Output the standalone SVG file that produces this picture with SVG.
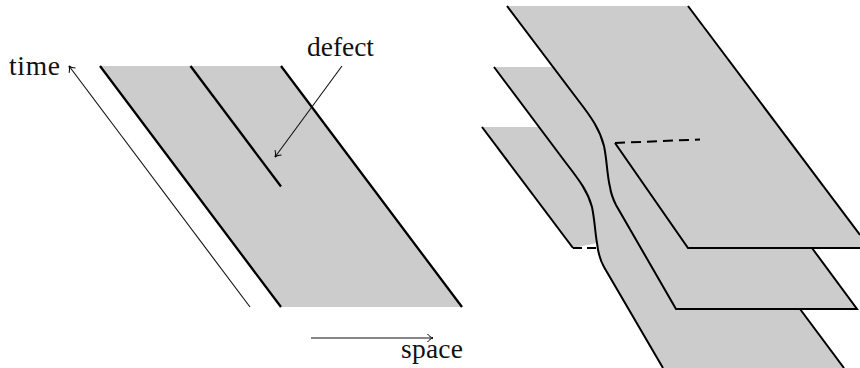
<svg xmlns="http://www.w3.org/2000/svg" width="860" height="368" viewBox="0 0 860 368">
<style>
.s{fill:#ccc;stroke:none}
.e{fill:none;stroke:#000;stroke-width:2}
.t{fill:none;stroke:#000;stroke-width:2.300}
.a{fill:none;stroke:#111;stroke-width:1.100;marker-end:url(#h)}
text{font-family:"Liberation Serif",serif;font-size:27.500px;fill:#111}
</style>
<defs><marker id="h" markerUnits="userSpaceOnUse" markerWidth="14" markerHeight="14" refX="9" refY="7" orient="auto"><path d="M3.500 3C5 5 7 6.500 9 7C7 7.500 5 9 3.500 11" fill="none" stroke="#000" stroke-width="1"/></marker></defs>
<g id="left-sheet">
<path class="s" d="M100 66H281L462 307H281Z"/>
<path class="t" d="M100 66L281 307M281 66L462 307"/>
</g>
<g id="defect-line"><path class="t" d="M190.500 66L281 186.500"/></g>
<g id="right-sheets">
<path class="s" d="M494 67H552L507 6H688L860 235V248H812L857 309H800L844 368H663L604 267C600 260 598 252 597 243L573 248L482 127H540L494 67Z"/>
<path class="e" d="M507 6L578 100C592 118 600 130 604 146C607 160 607 175 610 187C611 194 613 199 616 205L676 309H857L812 248"/>
<path class="e" d="M494 67L566 163C580 181 588 192 592 207C595 222 595 232 597 243C598 252 600 260 604 267L663 368"/>
<path class="e" d="M482 127L573 248"/>
<path class="e" d="M800 309L844 368"/>
<path class="e" d="M688 6L860 235"/>
<path class="e" d="M615 143L688 248H860"/>
<path class="e" d="M573 248H598" stroke-dasharray="9 5"/>
<path class="e" d="M615 143L700 139.500" stroke-dasharray="10 6"/>
</g>
<g id="connectors">
<path class="a" d="M250 307L69 66"/>
<path class="a" d="M342 66L275 157"/>
<path class="a" d="M311 338H433"/>
</g>
<g id="labels">
<text id="time" x="9" y="75" textLength="51">time</text>
<text id="defect" x="307" y="56" textLength="67">defect</text>
<text id="space" x="401" y="358" textLength="62">space</text>
</g>
</svg>
